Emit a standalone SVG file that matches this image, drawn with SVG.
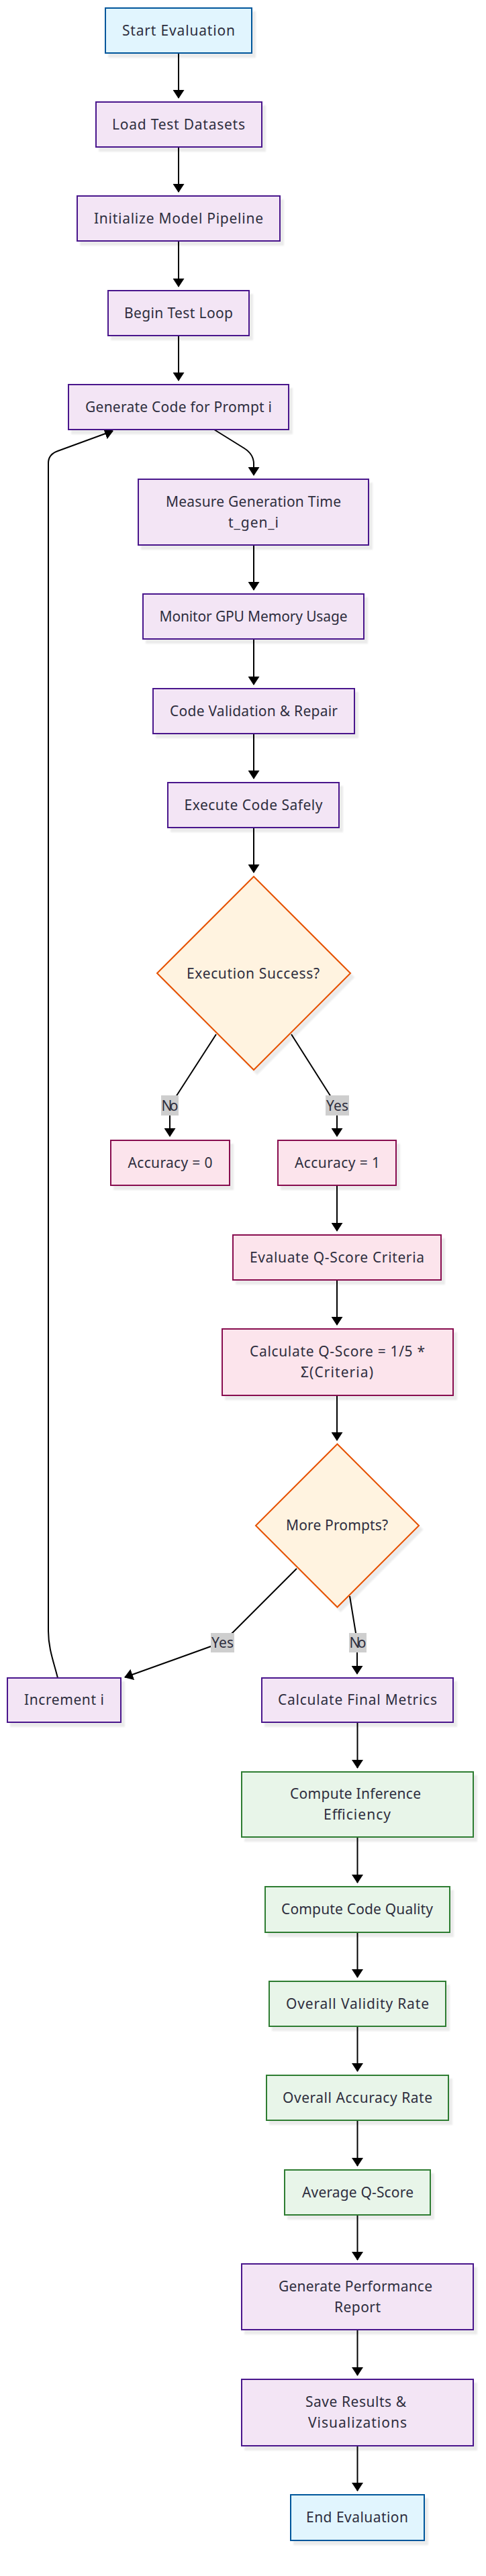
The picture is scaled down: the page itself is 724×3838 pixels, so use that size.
<svg xmlns="http://www.w3.org/2000/svg" width="724" height="3838" viewBox="0 0 724 3838">
<style>
.n rect,.n polygon{stroke-width:2;filter:url(#sh)}
.s rect{fill:#e1f5fe;stroke:#01579b}
.p rect{fill:#f3e5f5;stroke:#4a148c}
.d polygon{fill:#fff3e0;stroke:#e65100}
.a rect{fill:#fce4ec;stroke:#880e4f}
.g rect{fill:#e8f5e9;stroke:#2e7d32}
text{font-family:"Noto Sans","Liberation Sans",sans-serif;font-size:21px;fill:#2e2e3e;text-anchor:middle}
#edges path{fill:none;stroke:#000;stroke-width:2;marker-end:url(#arr)}
.lbl rect{fill:#cecece}
</style>
<defs>
<filter id="sh" x="-10%" y="-10%" width="130%" height="130%">
<feDropShadow dx="5" dy="6" stdDeviation="1.2" flood-color="#000" flood-opacity="0.08"/>
</filter>
<marker id="arr" markerUnits="userSpaceOnUse" viewBox="0 0 13 17" markerWidth="13" markerHeight="17" refX="12" refY="8.5" orient="auto">
<path d="M0,0 L13,8.5 L0,17 z" fill="#000"/>
</marker>
</defs>
<rect width="724" height="3838" fill="#fff"/>
<g id="edges">
<path d="M266,79 V146"/>
<path d="M266,219 V286"/>
<path d="M266,359 V427"/>
<path d="M266,500 V567"/>
<path d="M319,640 L364,668 Q378,677 378,691 V708"/>
<path d="M378,812 V879"/>
<path d="M378,952 V1020"/>
<path d="M378,1093 V1160"/>
<path d="M378,1233 V1300"/>
<path d="M322,1541 L262,1634 Q253,1648 253,1662 V1693"/>
<path d="M434,1541 L493,1634 Q502,1648 502,1662 V1693"/>
<path d="M502,1766 V1834"/>
<path d="M502,1907 V1974"/>
<path d="M502,2079 V2146"/>
<path d="M442,2337 L347,2432 Q334,2445 314,2453 L186,2499"/>
<path d="M521,2378 L530,2433 Q532,2445 532,2462 V2494"/>
<path d="M86,2500 C80,2476 72,2456 72,2430 V690 Q72,677 86,672 L168,642"/>
<path d="M532.5,2566 V2634"/>
<path d="M532.5,2737 V2805"/>
<path d="M532.5,2879 V2946"/>
<path d="M532.5,3019 V3086"/>
<path d="M532.5,3159 V3227"/>
<path d="M532.5,3300 V3367"/>
<path d="M532.5,3471 V3539"/>
<path d="M532.5,3644 V3711"/>
</g>
<g id="edge-labels">
<g class="lbl"><rect x="240" y="1632" width="26" height="30"/><text x="253" y="1655" textLength="25">No</text></g>
<g class="lbl"><rect x="485" y="1632" width="35" height="30"/><text x="502.5" y="1655" textLength="33">Yes</text></g>
<g class="lbl"><rect x="314" y="2433" width="35" height="29"/><text x="331.5" y="2455" textLength="33">Yes</text></g>
<g class="lbl"><rect x="520" y="2433" width="26" height="29"/><text x="533" y="2455" textLength="25">No</text></g>
</g>
<g id="start" class="n s"><rect x="157" y="12" width="218" height="67"/><text x="266" y="52.5" textLength="168">Start Evaluation</text></g>
<g id="load" class="n p"><rect x="143" y="152" width="247" height="67"/><text x="266" y="192.5" textLength="198">Load Test Datasets</text></g>
<g id="init" class="n p"><rect x="115" y="292" width="302" height="67"/><text x="266" y="332.5" textLength="252">Initialize Model Pipeline</text></g>
<g id="begin" class="n p"><rect x="161" y="433" width="210" height="67"/><text x="266" y="473.5" textLength="162">Begin Test Loop</text></g>
<g id="gen" class="n p"><rect x="102" y="573" width="328" height="67"/><text x="266" y="613.5" textLength="278">Generate Code for Prompt i</text></g>
<g id="measure" class="n p"><rect x="206" y="714" width="343" height="98"/><text x="377.5" y="754.5" textLength="261">Measure Generation Time</text><text x="377.5" y="785.5" textLength="75">t_gen_i</text></g>
<g id="monitor" class="n p"><rect x="213" y="885" width="329" height="67"/><text x="377.5" y="925.5" textLength="280">Monitor GPU Memory Usage</text></g>
<g id="validate" class="n p"><rect x="228" y="1026" width="300" height="67"/><text x="378" y="1066.5" textLength="250">Code Validation &amp; Repair</text></g>
<g id="execute" class="n p"><rect x="250" y="1166" width="255" height="67"/><text x="377.5" y="1206.5" textLength="206">Execute Code Safely</text></g>
<g id="success" class="n d"><polygon points="378,1306 522,1450 378,1594 234,1450"/><text x="377" y="1458" textLength="198">Execution Success?</text></g>
<g id="acc0" class="n a"><rect x="165" y="1699" width="177" height="67"/><text x="253.5" y="1739.5" textLength="126">Accuracy = 0</text></g>
<g id="acc1" class="n a"><rect x="414" y="1699" width="176" height="67"/><text x="502.5" y="1739.5" textLength="127">Accuracy = 1</text></g>
<g id="evalq" class="n a"><rect x="347" y="1840" width="310" height="67"/><text x="502" y="1880.5" textLength="260">Evaluate Q-Score Criteria</text></g>
<g id="calcq" class="n a"><rect x="331" y="1980" width="344" height="99"/><text x="502.5" y="2021" textLength="261">Calculate Q-Score = 1/5 *</text><text x="502" y="2052" textLength="108">Σ(Criteria)</text></g>
<g id="more" class="n d"><polygon points="502.5,2151.5 624,2273 502.5,2394.5 381,2273"/><text x="502" y="2280" textLength="152">More Prompts?</text></g>
<g id="inc" class="n p"><rect x="11" y="2500" width="169" height="66"/><text x="95.5" y="2540" textLength="119">Increment i</text></g>
<g id="final" class="n p"><rect x="390" y="2500" width="285" height="66"/><text x="532.5" y="2540" textLength="237">Calculate Final Metrics</text></g>
<g id="infer" class="n g"><rect x="360" y="2640" width="345" height="97"/><text x="529.5" y="2680" textLength="195">Compute Inference</text><text x="532" y="2711" textLength="100">Efficiency</text></g>
<g id="quality" class="n g"><rect x="395" y="2811" width="275" height="68"/><text x="532" y="2852" textLength="226">Compute Code Quality</text></g>
<g id="validity" class="n g"><rect x="401" y="2952" width="263" height="67"/><text x="532.5" y="2992.5" textLength="213">Overall Validity Rate</text></g>
<g id="accrate" class="n g"><rect x="397" y="3092" width="271" height="67"/><text x="532.5" y="3132.5" textLength="223">Overall Accuracy Rate</text></g>
<g id="avgq" class="n g"><rect x="424" y="3233" width="217" height="67"/><text x="533" y="3273.5" textLength="166">Average Q-Score</text></g>
<g id="report" class="n p"><rect x="360" y="3373" width="345" height="98"/><text x="529.5" y="3413.5" textLength="229">Generate Performance</text><text x="532.5" y="3444.5" textLength="69">Report</text></g>
<g id="save" class="n p"><rect x="360" y="3545" width="345" height="99"/><text x="530" y="3586" textLength="150">Save Results &amp;</text><text x="532.5" y="3617" textLength="147">Visualizations</text></g>
<g id="end" class="n s"><rect x="433" y="3717" width="199" height="68"/><text x="532" y="3758" textLength="152">End Evaluation</text></g>
</svg>
